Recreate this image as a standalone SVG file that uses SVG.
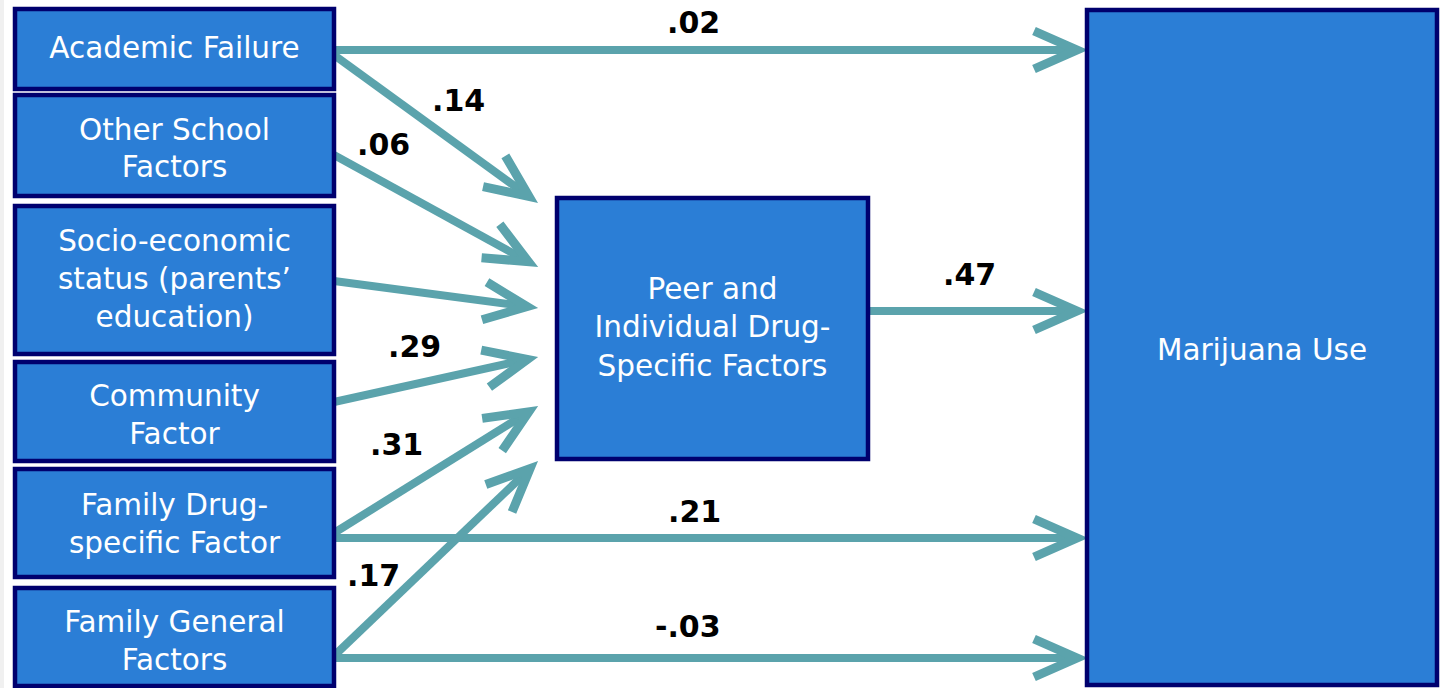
<svg xmlns="http://www.w3.org/2000/svg" width="1445" height="688" viewBox="0 0 1445 688">
<defs>
<style>
.box{fill:#2b7ed6;stroke:#00006e;stroke-width:4.5}
.bt{font-family:"DejaVu Sans","Liberation Sans",sans-serif;font-size:29.5px;fill:#ffffff;text-anchor:middle}
.lb{font-family:"DejaVu Sans","Liberation Sans",sans-serif;font-size:30px;font-weight:bold;fill:#000000}
.cn{stroke:#5ba3ac;stroke-width:8;fill:none;marker-end:url(#ah)}
</style>
<marker id="ah" markerUnits="userSpaceOnUse" viewBox="-50 -30 70 60" markerWidth="70" markerHeight="60" refX="0" refY="0" orient="auto" overflow="visible">
<path d="M-43,-19 L0,0 L-43,19" fill="none" stroke="#5ba3ac" stroke-width="9" stroke-linejoin="miter"/>
</marker>
</defs>
<rect x="0" y="0" width="1445" height="688" fill="#ffffff"/>
<rect x="0" y="0" width="4" height="688" fill="#f0f0f0"/>

<g id="connectors">
<line class="cn" x1="334" y1="50" x2="1077" y2="50"/>
<line class="cn" x1="869" y1="311" x2="1077" y2="311"/>
<line class="cn" x1="334" y1="538" x2="1077" y2="538"/>
<line class="cn" x1="334" y1="658" x2="1077" y2="658"/>
<line class="cn" x1="334" y1="55" x2="529" y2="196.5"/>
<line class="cn" x1="334" y1="155" x2="528.4" y2="261.7"/>
<line class="cn" x1="334" y1="281" x2="527.1" y2="306.6"/>
<line class="cn" x1="334" y1="402" x2="527.3" y2="359.4"/>
<line class="cn" x1="334" y1="533" x2="528.7" y2="411.8"/>
<line class="cn" x1="336" y1="654" x2="530" y2="468.6"/>
</g>

<g id="labels">
<text class="lb" x="667" y="33">.02</text>
<text class="lb" x="432" y="111">.14</text>
<text class="lb" x="357" y="155">.06</text>
<text class="lb" x="388" y="357">.29</text>
<text class="lb" x="370" y="455">.31</text>
<text class="lb" x="668" y="522">.21</text>
<text class="lb" x="347" y="586">.17</text>
<text class="lb" x="655" y="637">-.03</text>
<text class="lb" x="943" y="285">.47</text>
</g>

<g id="academic-failure">
<rect class="box" x="15" y="9" width="319" height="80"/>
<text class="bt" x="174.5" y="58">Academic Failure</text>
</g>
<g id="other-school">
<rect class="box" x="15" y="95" width="319" height="101"/>
<text class="bt" x="174.5" y="140">Other School</text>
<text class="bt" x="174.5" y="177">Factors</text>
</g>
<g id="ses">
<rect class="box" x="15" y="206" width="319" height="148"/>
<text class="bt" x="174.5" y="251">Socio-economic</text>
<text class="bt" x="174.5" y="289">status (parents’</text>
<text class="bt" x="174.5" y="327">education)</text>
</g>
<g id="community">
<rect class="box" x="15" y="362" width="319" height="99"/>
<text class="bt" x="174.5" y="406">Community</text>
<text class="bt" x="174.5" y="444">Factor</text>
</g>
<g id="family-drug">
<rect class="box" x="15" y="469" width="319" height="108"/>
<text class="bt" x="174.5" y="515">Family Drug-</text>
<text class="bt" x="174.5" y="553">specific Factor</text>
</g>
<g id="family-general">
<rect class="box" x="15" y="588" width="319" height="98"/>
<text class="bt" x="174.5" y="632">Family General</text>
<text class="bt" x="174.5" y="670">Factors</text>
</g>
<g id="peer">
<rect class="box" x="557" y="198" width="311" height="261"/>
<text class="bt" x="712.5" y="299">Peer and</text>
<text class="bt" x="712.5" y="337">Individual Drug-</text>
<text class="bt" x="712.5" y="376">Specific Factors</text>
</g>
<g id="marijuana">
<rect class="box" x="1087" y="10" width="350" height="675"/>
<text class="bt" x="1262" y="360">Marijuana Use</text>
</g>
</svg>
